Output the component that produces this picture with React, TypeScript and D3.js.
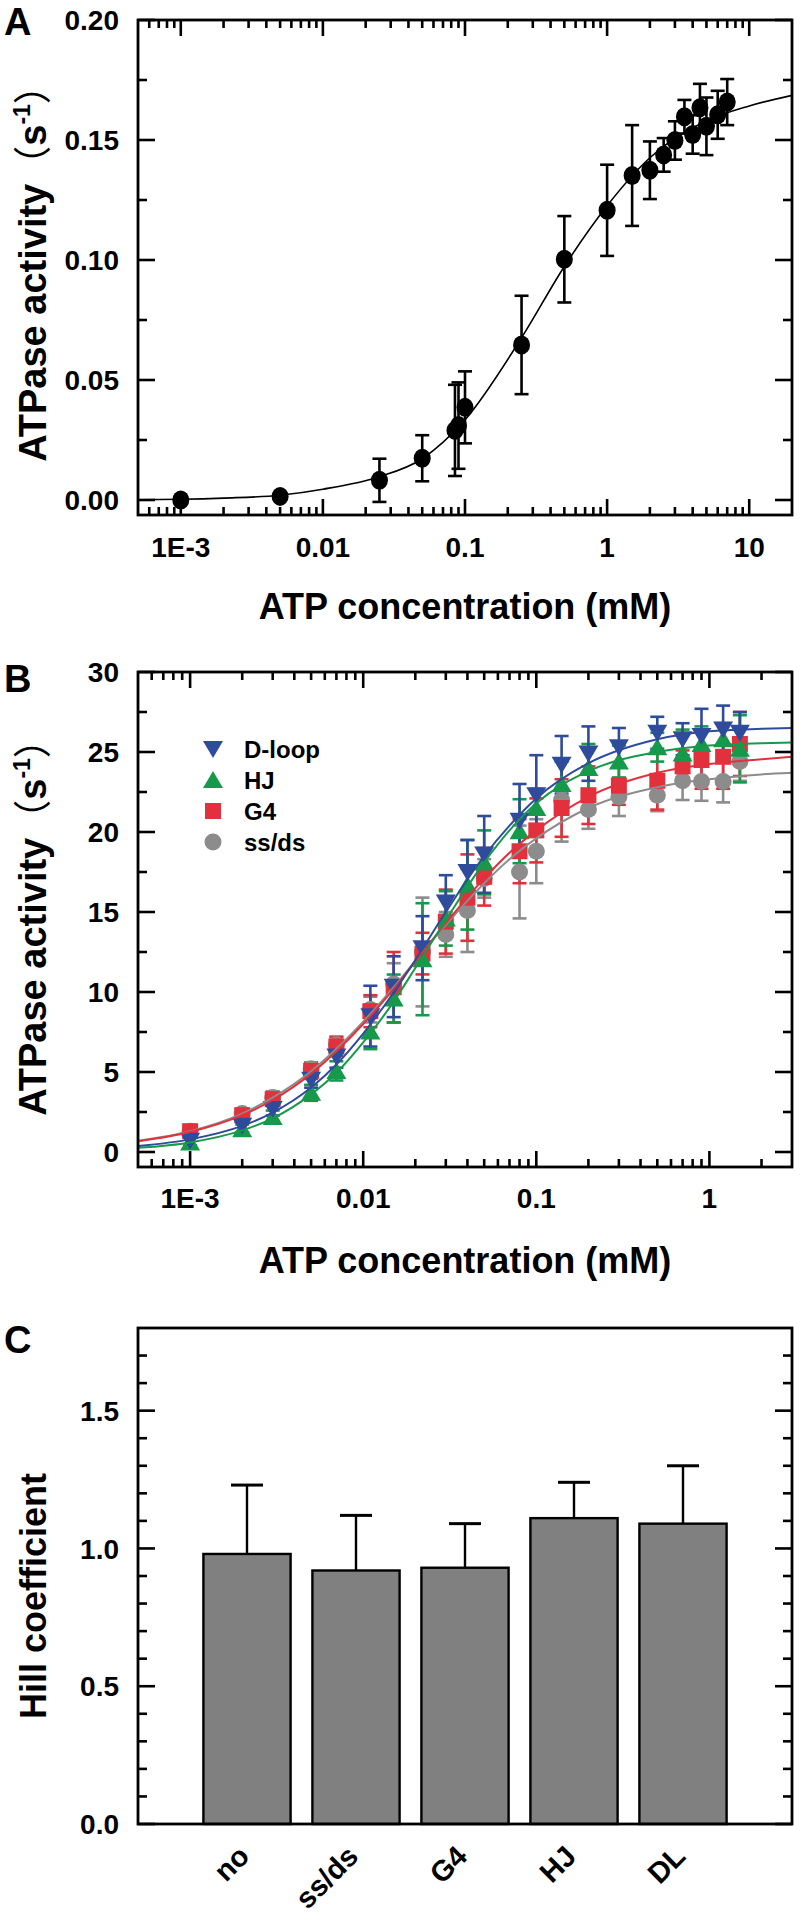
import React from "react";
import * as d3 from "d3";

// ---- panel A: single substrate ATPase curve ----
const atpA = [0.001, 0.005, 0.025, 0.05, 0.085, 0.09, 0.1, 0.25, 0.5, 1, 1.5, 2, 2.5, 3, 3.5, 4, 4.5, 5, 6, 7];
const rateA = [0.0, 0.0015, 0.0082, 0.0174, 0.029, 0.031, 0.0386, 0.0646, 0.1003, 0.1207, 0.1352, 0.1374, 0.1438, 0.1498, 0.1597, 0.1523, 0.1634, 0.1557, 0.1605, 0.1658];
const errA = [0, 0, 0.009, 0.0096, 0.019, 0.018, 0.015, 0.0205, 0.018, 0.019, 0.021, 0.012, 0.007, 0.008, 0.007, 0.008, 0.01, 0.012, 0.01, 0.0096];
const fitAx = [5e-4, 0.001, 0.002, 0.005, 0.01, 0.025, 0.05, 0.1, 0.25, 0.5, 1, 2, 5, 10, 20];
const fitAy = [0.0001, 0.0003, 0.0008, 0.002, 0.0045, 0.0097, 0.0172, 0.0334, 0.0676, 0.0973, 0.1226, 0.1426, 0.158, 0.1642, 0.1686];
const yTicksA = [0, 0.05, 0.1, 0.15, 0.2];
const yMinorA = [0.025, 0.075, 0.125, 0.175];

// ---- panel B: four DNA substrates ----
const atpB = [0.001, 0.002, 0.003, 0.005, 0.007, 0.011, 0.015, 0.022, 0.03, 0.04, 0.05, 0.08, 0.1, 0.14, 0.2, 0.3, 0.5, 0.7, 0.9, 1.2, 1.5];
const dloop = [0.7, 1.64, 2.68, 4.52, 5.97, 8.49, 10.33, 12.74, 15.6, 17.5, 18.6, 20.7, 22.3, 24.2, 24.9, 25.3, 26.2, 25.8, 26.0, 26.4, 26.2];
const dloopErr = [0.3, 0.4, 0.4, 0.5, 0.7, 1.9, 1.9, 2.0, 1.7, 2.0, 2.4, 2.3, 2.5, 1.8, 1.7, 1.2, 1.0, 1.0, 1.7, 1.5, 1.3];
const hj = [0.6, 1.42, 2.19, 3.7, 5.07, 7.53, 9.59, 12.05, 14.6, 16.7, 18.1, 20.05, 21.5, 23.0, 24.0, 24.4, 25.3, 24.9, 25.5, 25.8, 25.2];
const hjErr = [0.3, 0.3, 0.4, 0.5, 0.6, 1.1, 1.5, 3.5, 1.7, 2.8, 2.0, 2.0, 1.2, 1.4, 1.5, 1.0, 0.9, 1.5, 1.1, 1.0, 2.1];
const g4 = [1.3, 2.3, 3.3, 5.07, 6.6, 8.8, 10.3, 12.4, 14.4, 15.9, 17.2, 18.8, 20.1, 21.5, 22.3, 22.9, 23.2, 24.1, 24.5, 24.7, 25.5];
const g4Err = [0.3, 0.3, 0.4, 0.5, 0.6, 1.0, 2.2, 1.3, 2.0, 2.7, 1.8, 2.0, 2.0, 1.8, 1.8, 1.2, 1.8, 1.0, 1.8, 2.0, 2.0];
const ssds = [1.3, 2.4, 3.4, 5.2, 6.7, 8.9, 10.5, 12.5, 13.6, 15.1, 17.1, 17.5, 18.8, 22.0, 21.4, 22.2, 22.3, 23.2, 23.15, 23.15, 24.4];
const ssdsErr = [0.3, 0.3, 0.4, 0.4, 0.5, 0.8, 1.3, 3.4, 1.4, 2.6, 1.2, 2.9, 2.0, 2.6, 1.2, 1.2, 1.0, 1.2, 1.2, 1.3, 1.2];

const fitBx = [5e-4, 0.001, 0.002, 0.003, 0.005, 0.007, 0.01, 0.015, 0.02, 0.03, 0.05, 0.07, 0.1, 0.2, 0.5, 1, 2, 3];
const fitDloop = [0.37, 0.79, 1.63, 2.46, 4.03, 5.47, 7.4, 9.97, 12.0, 15.0, 18.5, 20.4, 22.1, 24.3, 25.8, 26.3, 26.45, 26.5];
const fitHJ = [0.26, 0.6, 1.35, 2.1, 3.6, 4.95, 6.85, 9.4, 11.5, 14.5, 18.1, 20.1, 21.8, 23.8, 25.0, 25.4, 25.55, 25.6];
const fitG4 = [0.67, 1.25, 2.3, 3.25, 4.9, 6.3, 8.0, 10.2, 11.9, 14.3, 17.1, 18.7, 20.1, 22.2, 23.7, 24.25, 24.55, 24.7];
const fitSsds = [0.7, 1.3, 2.4, 3.4, 5.05, 6.45, 8.15, 10.3, 11.95, 14.2, 16.8, 18.3, 19.6, 21.5, 22.8, 23.3, 23.6, 23.7];
const yTicksB = [0, 5, 10, 15, 20, 25, 30];
const yMinorB = [2.5, 7.5, 12.5, 17.5, 22.5, 27.5];

// ---- panel C: Hill coefficients ----
const hillCats = ["no", "ss/ds", "G4", "HJ", "DL"];
const hillVals = [0.98, 0.92, 0.93, 1.11, 1.09];
const hillErr = [0.25, 0.2, 0.16, 0.13, 0.21];
const yTicksC = [0, 0.5, 1.0, 1.5];
const yMinorC = [0.1, 0.2, 0.3, 0.4, 0.6, 0.7, 0.8, 0.9, 1.1, 1.2, 1.3, 1.4, 1.6, 1.7];

const xTickLabels = ["1E-3", "0.01", "0.1", "1", "10"];
const xTickVals = [0.001, 0.01, 0.1, 1, 10];

const FONT = "'Liberation Sans', Arial, Helvetica, sans-serif";
const BLUE = "#2f4b9c";
const GREEN = "#17994b";
const RED = "#e2313c";
const GRAY = "#8c8c8c";

const L = 138, R = 792;

const xA = d3.scaleLog().domain([5e-4, 20]).range([L, R]);
const yA = d3.scaleLinear().domain([-0.00625, 0.2]).range([515, 20]);
const xB = d3.scaleLog().domain([5e-4, 3]).range([L, R]);
const yB = d3.scaleLinear().domain([-0.9375, 30]).range([1167, 672]);
const xC = d3.scaleLinear().domain([0, 6]).range([L, R]);
const yC = d3.scaleLinear().domain([0, 1.8]).range([1824, 1328]);

const isDecade = (t) => Math.abs(Math.log10(t) - Math.round(Math.log10(t))) < 1e-6;

function LogTicks({ x, top, bottom }) {
  const [d0, d1] = x.domain();
  const ticks = x.ticks().filter((t) => t > d0 * 1.001 && t < d1 * 0.999);
  return (
    <g stroke="#000" strokeWidth={2.6}>
      {ticks.map((t, i) => {
        const len = isDecade(t) ? 16 : 8;
        const px = x(t);
        return (
          <g key={i}>
            <line x1={px} x2={px} y1={bottom} y2={bottom - len} />
            <line x1={px} x2={px} y1={top} y2={top + len} />
          </g>
        );
      })}
    </g>
  );
}

function YTicks({ y, major, minor, fmt }) {
  return (
    <g>
      <g stroke="#000" strokeWidth={2.6}>
        {major.map((t, i) => (
          <g key={i}>
            <line x1={L} x2={L + 17} y1={y(t)} y2={y(t)} />
            <line x1={R} x2={R - 17} y1={y(t)} y2={y(t)} />
          </g>
        ))}
        {minor.map((t, i) => (
          <g key={i}>
            <line x1={L} x2={L + 9} y1={y(t)} y2={y(t)} />
            <line x1={R} x2={R - 9} y1={y(t)} y2={y(t)} />
          </g>
        ))}
      </g>
      {major.map((t, i) => (
        <text key={i} x={119} y={y(t)} dy="0.36em" textAnchor="end" fontSize={28} fontWeight="bold">
          {fmt(t)}
        </text>
      ))}
    </g>
  );
}

function XLabels({ x, baseline, vals }) {
  return (
    <g>
      {vals.map((v, i) => (
        <text key={i} x={x(v)} y={baseline} textAnchor="middle" fontSize={28} fontWeight="bold">
          {xTickLabels[i]}
        </text>
      ))}
    </g>
  );
}

function RateLabel({ cx, cy }) {
  return (
    <text transform={`translate(${cx},${cy}) rotate(-90)`} textAnchor="middle" fontSize={38} fontWeight="bold">
      ATPase activity
      <tspan fontFamily="'Noto Sans CJK SC', sans-serif" fontWeight="normal">（</tspan>
      s
      <tspan fontSize={23} dy={-16}>-1</tspan>
      <tspan dy={16} fontFamily="'Noto Sans CJK SC', sans-serif" fontWeight="normal">）</tspan>
    </text>
  );
}

function ErrBars({ xs, ys, errs, x, y, color, cap }) {
  return (
    <g stroke={color} strokeWidth={2.6}>
      {xs.map((v, i) => {
        if (!errs[i]) return null;
        const px = x(v);
        const y1 = y(ys[i] + errs[i]);
        const y2 = y(ys[i] - errs[i]);
        return (
          <g key={i}>
            <line x1={px} x2={px} y1={y1} y2={y2} />
            <line x1={px - cap} x2={px + cap} y1={y1} y2={y1} />
            <line x1={px - cap} x2={px + cap} y1={y2} y2={y2} />
          </g>
        );
      })}
    </g>
  );
}

function marker(kind, cx, cy) {
  if (kind === "down") return `M${cx - 10},${cy - 8}L${cx + 10},${cy - 8}L${cx},${cy + 9}Z`;
  if (kind === "up") return `M${cx - 10},${cy + 8}L${cx + 10},${cy + 8}L${cx},${cy - 9}Z`;
  if (kind === "square") return `M${cx - 8},${cy - 8}h16v16h-16Z`;
  return `M${cx - 8.5},${cy}a8.5,8.5 0 1,0 17,0a8.5,8.5 0 1,0 -17,0Z`;
}

const seriesB = [
  { name: "ss/ds", ys: ssds, err: ssdsErr, fit: fitSsds, color: GRAY, kind: "circle" },
  { name: "G4", ys: g4, err: g4Err, fit: fitG4, color: RED, kind: "square" },
  { name: "HJ", ys: hj, err: hjErr, fit: fitHJ, color: GREEN, kind: "up" },
  { name: "D-loop", ys: dloop, err: dloopErr, fit: fitDloop, color: BLUE, kind: "down" },
];

export default function App() {
  const lineA = d3
    .line()
    .x((d) => xA(d[0]))
    .y((d) => yA(d[1]))
    .curve(d3.curveMonotoneX);
  const lineB = d3
    .line()
    .x((d) => xB(d[0]))
    .y((d) => yB(d[1]))
    .curve(d3.curveMonotoneX);

  const legendOrder = [seriesB[3], seriesB[2], seriesB[1], seriesB[0]];

  return (
    <svg
      width={800}
      height={1919}
      style={{ position: "absolute", left: 0, top: 0, background: "#fff" }}
      fontFamily={FONT}
    >
      {/* ===== Panel A ===== */}
      <text x={4} y={35} fontSize={38} fontWeight="bold">A</text>
      <path
        d={lineA(fitAx.map((v, i) => [v, fitAy[i]]))}
        fill="none"
        stroke="#000"
        strokeWidth={1.6}
      />
      <ErrBars xs={atpA} ys={rateA} errs={errA} x={xA} y={yA} color="#000" cap={7} />
      {atpA.map((v, i) => (
        <ellipse key={i} cx={xA(v)} cy={yA(rateA[i])} rx={8.5} ry={9.5} fill="#000" />
      ))}
      <rect x={L} y={20} width={R - L} height={495} fill="none" stroke="#000" strokeWidth={2.8} />
      <LogTicks x={xA} top={20} bottom={515} />
      <YTicks y={yA} major={yTicksA} minor={yMinorA} fmt={(t) => t.toFixed(2)} />
      <XLabels x={xA} baseline={557} vals={xTickVals} />
      <text x={(L + R) / 2} y={619} textAnchor="middle" fontSize={36} fontWeight="bold">
        ATP concentration (mM)
      </text>
      <RateLabel cx={46} cy={264} />

      {/* ===== Panel B ===== */}
      <text x={4} y={692} fontSize={38} fontWeight="bold">B</text>
      {seriesB.map((s) => (
        <ErrBars key={s.name} xs={atpB} ys={s.ys} errs={s.err} x={xB} y={yB} color={s.color} cap={7} />
      ))}
      {seriesB.map((s) => (
        <g key={s.name} fill={s.color}>
          {atpB.map((v, i) => (
            <path key={i} d={marker(s.kind, xB(v), yB(s.ys[i]))} />
          ))}
        </g>
      ))}
      {seriesB.map((s) => (
        <path
          key={s.name}
          d={lineB(fitBx.map((v, i) => [v, s.fit[i]]))}
          fill="none"
          stroke={s.color}
          strokeWidth={2}
        />
      ))}
      {legendOrder.map((s, i) => {
        const ly = 749 + i * 31;
        return (
          <g key={s.name}>
            <path d={marker(s.kind, 213, ly)} fill={s.color} />
            <text x={244} y={ly + 8.5} fontSize={24} fontWeight="bold">{s.name}</text>
          </g>
        );
      })}
      <rect x={L} y={672} width={R - L} height={495} fill="none" stroke="#000" strokeWidth={2.8} />
      <LogTicks x={xB} top={672} bottom={1167} />
      <YTicks y={yB} major={yTicksB} minor={yMinorB} fmt={(t) => String(t)} />
      <XLabels x={xB} baseline={1208} vals={xTickVals.slice(0, 4)} />
      <text x={(L + R) / 2} y={1273} textAnchor="middle" fontSize={36} fontWeight="bold">
        ATP concentration (mM)
      </text>
      <RateLabel cx={46} cy={918} />

      {/* ===== Panel C ===== */}
      <text x={4} y={1353} fontSize={38} fontWeight="bold">C</text>
      <g stroke="#000" strokeWidth={2.4}>
        {hillCats.map((c, i) => {
          const cx = xC(i + 1);
          const top = yC(hillVals[i]);
          const et = yC(hillVals[i] + hillErr[i]);
          return (
            <g key={c}>
              <line x1={cx} x2={cx} y1={top} y2={et} />
              <line x1={cx - 16} x2={cx + 16} y1={et} y2={et} strokeWidth={3} />
            </g>
          );
        })}
      </g>
      {hillCats.map((c, i) => {
        const x0 = xC(i + 1 - 0.4);
        const x1 = xC(i + 1 + 0.4);
        return (
          <rect
            key={c}
            x={x0}
            y={yC(hillVals[i])}
            width={x1 - x0}
            height={yC(0) - yC(hillVals[i])}
            fill="#808080"
            stroke="#000"
            strokeWidth={2.4}
          />
        );
      })}
      <rect x={L} y={1328} width={R - L} height={496} fill="none" stroke="#000" strokeWidth={2.8} />
      <YTicks y={yC} major={yTicksC} minor={yMinorC} fmt={(t) => t.toFixed(1)} />
      {hillCats.map((c, i) => (
        <text
          key={c}
          transform={`translate(${xC(i + 1) + 4},${1858}) rotate(-45)`}
          textAnchor="end"
          fontSize={29}
          fontWeight="bold"
        >
          {c}
        </text>
      ))}
      <text
        transform={`translate(46,1596) rotate(-90)`}
        textAnchor="middle"
        fontSize={36}
        fontWeight="bold"
      >
        Hill coefficient
      </text>
    </svg>
  );
}
